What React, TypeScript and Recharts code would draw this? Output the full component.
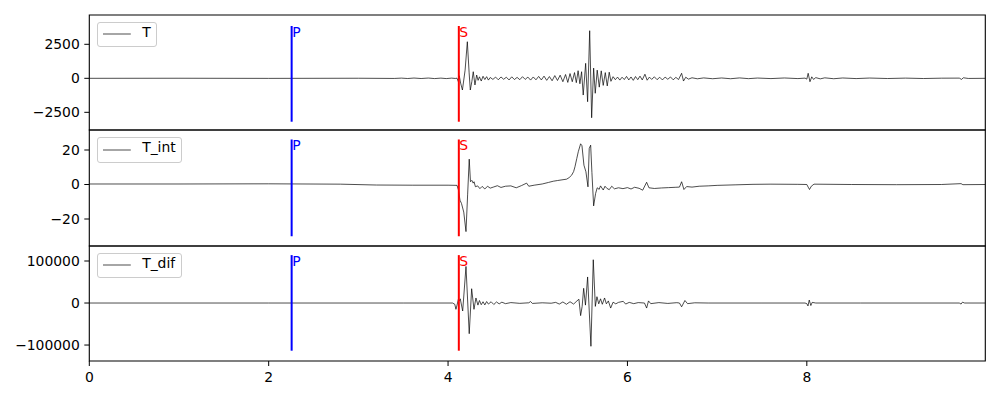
import { LineChart, Line, XAxis, YAxis, ReferenceLine, ReferenceArea, Legend } from 'recharts';

const FONT = '"DejaVu Sans", sans-serif';
const X_MAX = 9.99;
const xTicks = [0, 2, 4, 6, 8];
const pTime = 2.256;
const sTime = 4.12;

// trace T
const tT = [
  0, 1.0, 2.0, 3.0, 3.40, 3.48, 3.55, 3.62, 3.70, 3.78, 3.85, 3.92, 3.98, 4.04, 4.08, 4.10,
  4.115, 4.125, 4.14, 4.16, 4.19, 4.215, 4.235, 4.248, 4.265, 4.281, 4.30, 4.319, 4.335, 4.35,
  4.37, 4.39, 4.41, 4.43, 4.45, 4.47, 4.50, 4.53, 4.56, 4.59, 4.62, 4.65, 4.68, 4.71, 4.74,
  4.77, 4.80, 4.83, 4.86, 4.89, 4.92, 4.95, 4.98, 5.01, 5.04, 5.07, 5.10, 5.13, 5.16, 5.19,
  5.22, 5.25, 5.28, 5.31, 5.335, 5.36, 5.385, 5.41, 5.43, 5.45, 5.47, 5.489, 5.507, 5.534,
  5.556, 5.579, 5.601, 5.623, 5.641, 5.663, 5.686, 5.708, 5.730, 5.753, 5.775, 5.797, 5.816,
  5.84, 5.865, 5.89, 5.915, 5.94, 5.965, 5.99, 6.015, 6.04, 6.065, 6.09, 6.115, 6.14, 6.165,
  6.195, 6.22, 6.245, 6.27, 6.30, 6.33, 6.36, 6.39, 6.42, 6.45, 6.48, 6.51, 6.54, 6.57, 6.604,
  6.625, 6.65, 6.68, 6.72, 6.78, 6.85, 6.95, 7.05, 7.15, 7.25, 7.35, 7.45, 7.60, 7.75, 7.90,
  7.98, 8.00, 8.015, 8.035, 8.055, 8.075, 8.10, 8.15, 8.20, 8.30, 8.40, 8.55, 8.70, 8.90, 9.10,
  9.30, 9.50, 9.70, 9.725, 9.745, 9.80, 9.99,
];
const valT = [
  0, 5, -5, 5, -10, 15, -15, 20, -15, 20, -20, 15, -20, 15, -10, 10,
  -250, 190, -350, -860, 600, 2690, 400, -860, -250, 485, -490, 240, -150, 110,
  -200, 150, -90, 120, -130, 60, -80, 90, -110, 100, -70, 80, -120, 110, -90,
  70, -100, 120, -80, 90, -130, 100, -110, 140, -120, 160, -150, 130, -180, 200,
  -160, 230, -250, 280, -300, 350, -250, 420, -320, 560, -400, 485, -1230, 1100,
  -1720, 3500, -2900, 750, -1100, 600, -650, 550, -520, 420, -560, 450, -220,
  120, -100, 90, -130, 80, -90, 140, -120, 100, -150, 130, -100, 160, -120,
  300, -140, 90, -80, 110, -100, 80, -120, 90, -70, 100, -110, 70, -90, 370,
  -200, 80, -60, 40, -35, 30, -30, 25, -30, 30, -25, 20, -20, 25, -20,
  15, -60, 370, -250, 110, -80, 50, -40, 35, -30, 25, -20, 20, -15, 15,
  -15, 10, 15, -80, 40, -10, 0,
];

// trace T_int
const tInt = [
  0, 1.0, 2.0, 2.8, 3.2, 3.6, 4.0, 4.10, 4.115, 4.133, 4.15, 4.175, 4.20, 4.218, 4.236, 4.25,
  4.265, 4.28, 4.29, 4.305, 4.33, 4.355, 4.38, 4.41, 4.44, 4.47, 4.51, 4.55, 4.59, 4.64, 4.70,
  4.76, 4.82, 4.876, 4.90, 4.96, 5.05, 5.12, 5.173, 5.22, 5.27, 5.322, 5.35, 5.378, 5.40, 5.415,
  5.435, 5.452, 5.478, 5.493, 5.515, 5.537, 5.560, 5.574, 5.590, 5.604, 5.623, 5.645, 5.663,
  5.685, 5.70, 5.73, 5.75, 5.77, 5.797, 5.825, 5.855, 5.90, 5.95, 6.00, 6.04, 6.08, 6.13, 6.17,
  6.214, 6.24, 6.30, 6.38, 6.46, 6.54, 6.58, 6.604, 6.63, 6.66, 6.72, 6.80, 6.90, 7.00, 7.20,
  7.40, 7.60, 7.90, 8.00, 8.015, 8.03, 8.05, 8.08, 8.50, 9.00, 9.50, 9.72, 9.74, 9.99,
];
const valInt = [
  0.3, 0.3, 0.4, 0.2, -0.3, -0.4, -0.4, -0.5, -3, -9.1, -11, -16, -27.3, -6, 14.7, 1.6,
  2.4, 0.8, 1.6, -1.3, -0.8, -2.4, -1.1, -2.6, -1.0, -2.1, -1.4, -0.7, -1.7, -1.0, -0.8,
  -1.9, -0.6, 0.8, -1.0, -0.4, 0.3, 1.2, 1.9, 2.3, 2.7, 3.1, 4.0, 5.4, 7.5, 10.3,
  15, 19, 23.6, 22.5, 11.2, 7.4, -1.35, 20.9, 22.8, 7.0, -12.4, -5.2, -1.9,
  -2.8, -0.8, -3.2, -1.0, -2.2, -3.0, -1.0, -2.5, -1.9, -2.4, -1.8, -2.6, -1.6, -2.2, -3.3,
  1.3, -1.9, -2.3, -2.0, -1.8, -1.6, -1.5, 1.6, -2.9, -1.2, -1.5, -1.0, -0.8, -0.5, -0.2,
  0.1, 0.2, 0.1, 0.0, -1.5, -2.9, -1.0, 0.2, 0.0, -0.1, 0.0, 0.5, -0.1, 0.0,
];

// trace T_dif
const tDif = [
  0, 2.0, 3.5, 4.05, 4.075, 4.088, 4.10, 4.114, 4.125, 4.136, 4.163, 4.2, 4.236, 4.263, 4.289,
  4.311, 4.333, 4.35, 4.37, 4.39, 4.41, 4.43, 4.45, 4.48, 4.51, 4.54, 4.57, 4.60, 4.64, 4.70,
  4.80, 4.90, 4.92, 4.94, 5.05, 5.15, 5.20, 5.24, 5.28, 5.32, 5.36, 5.40, 5.437, 5.459, 5.478,
  5.495, 5.512, 5.532, 5.556, 5.593, 5.619, 5.642, 5.66, 5.68, 5.70, 5.72, 5.745, 5.765, 5.787,
  5.813, 5.84, 5.87, 5.90, 5.953, 5.98, 6.02, 6.07, 6.12, 6.19, 6.214, 6.235, 6.26, 6.35, 6.45,
  6.55, 6.58, 6.604, 6.641, 6.67, 6.75, 6.9, 7.5, 7.98, 8.0, 8.013, 8.027, 8.045, 8.06, 8.10,
  8.6, 9.70, 9.72, 9.735, 9.76, 9.99,
];
const valDif = [
  0, 0, 0, 0, -3000, -15000, -5000, 8000, 5000, 10000, -19000, 87000, -73000, 34000, -15000,
  12000, -5000, 6000, -4000, 3000, -4500, 3500, -2500, 3000, -3500, 2500, -2000, 2000, -1500, 1000,
  -800, 500, 3500, -1000, 500, -500, 1500, -2500, 2500, -3000, 3000, -2500, 5000, 9000, -30000,
  -8000, 35000, -5000, 62000, -103000, 103000, -8000, 15000, -2000, 10000, -3000, 12000, -2000, 5000,
  -12000, 2000, -2000, 1500, 4000, -2500, 1500, -1500, 1000, 0, -12000, 5000, -1500, 1000, -1000,
  800, 0, -9000, 6000, -1500, 500, 0, 0, 0, -1500, -7000, 7000, -6000, 1500, 0,
  0, 0, -2500, 2000, 0, 0,
];

const fmt = (v: number) => (v < 0 ? '\u2212' + Math.abs(v) : String(v));

function PickLabel(props: any) {
  const { viewBox, text, color } = props;
  const x = viewBox?.x ?? 0;
  const y = viewBox?.y ?? 0;
  return (
    <text x={x + 0.5} y={y + 11} fill={color} fontSize={13.9} fontFamily={FONT}>
      {text}
    </text>
  );
}

function LegendBox({ name }: { name: string }) {
  return (
    <div
      style={{
        display: 'inline-flex',
        alignItems: 'center',
        boxSizing: 'border-box',
        height: 25.6,
        padding: '0 5.6px',
        border: '1px solid #cccccc',
        borderRadius: 3,
        background: 'rgba(255,255,255,0.8)',
        fontFamily: FONT,
        fontSize: 13.9,
        color: '#000',
      }}
    >
      <svg width={27.8} height={4} style={{ display: 'block' }}>
        <line x1={0} y1={2} x2={27.8} y2={2} stroke="#000" strokeWidth={0.7} />
      </svg>
      <span style={{ marginLeft: 11.1, lineHeight: 1, position: 'relative', top: -2 }}>{name}</span>
    </div>
  );
}

interface PanelProps {
  name: string;
  times: number[];
  values: number[];
  yTicks: number[];
  yDomain: [number, number];
  pickRange: [number, number];
  top: number;
  height: number;
  marginTop: number;
  marginBottom: number;
  legendTop: number;
  showX: boolean;
}

function Panel({ name, times, values, yTicks, yDomain, pickRange, top, height, marginTop, marginBottom, legendTop, showX }: PanelProps) {
  const data = times.map((t, i) => ({ t, v: values[i] }));
  const [lo, hi] = pickRange;
  return (
    <div style={{ position: 'absolute', left: 0, top }}>
      <LineChart width={1000} height={height} data={data} margin={{ top: marginTop, right: 14.7, bottom: marginBottom, left: 0 }}>
        <XAxis
          type="number"
          dataKey="t"
          domain={[0, X_MAX]}
          ticks={xTicks}
          allowDataOverflow
          hide={!showX}
          height={39}
          axisLine={false}
          tickSize={5}
          tickMargin={5.8}
          tickLine={{ stroke: '#000', strokeWidth: 1 }}
          tick={{ fontSize: 13.9, fontFamily: FONT, fill: '#000' }}
        />
        <YAxis
          type="number"
          domain={yDomain}
          ticks={yTicks}
          allowDataOverflow
          width={89.3}
          axisLine={false}
          tickSize={5}
          tickMargin={4.5}
          tickFormatter={fmt}
          tickLine={{ stroke: '#000', strokeWidth: 1 }}
          tick={{ fontSize: 13.9, fontFamily: FONT, fill: '#000' }}
        />
        <Line type="linear" dataKey="v" stroke="#000" strokeWidth={0.7} dot={false} isAnimationActive={false} />
        <ReferenceLine
          segment={[{ x: pTime, y: hi }, { x: pTime, y: lo }]}
          stroke="#0000ff"
          strokeWidth={2}
          label={<PickLabel text="P" color="#0000ff" />}
        />
        <ReferenceLine
          segment={[{ x: sTime, y: hi }, { x: sTime, y: lo }]}
          stroke="#ff0000"
          strokeWidth={2}
          label={<PickLabel text="S" color="#ff0000" />}
        />
        <ReferenceArea x1={0} x2={X_MAX} y1={yDomain[0]} y2={yDomain[1]} fill="none" stroke="#000" strokeWidth={1.1} />
        <Legend
          layout="horizontal"
          verticalAlign="middle"
          align="center"
          wrapperStyle={{ left: 96.7, top: legendTop, width: 'auto', height: 'auto' }}
          content={() => <LegendBox name={name} />}
        />
      </LineChart>
    </div>
  );
}

export default function App() {
  return (
    <div style={{ position: 'absolute', left: 0, top: 0, width: 1000, height: 400, background: '#fff' }}>
      <Panel
        name="T"
        times={tT}
        values={valT}
        yTicks={[-2500, 0, 2500]}
        yDomain={[-3800, 4655]}
        pickRange={[-3191, 3846]}
        top={0}
        height={140}
        marginTop={15}
        marginBottom={10}
        legendTop={21.7}
        showX={false}
      />
      <Panel
        name="T_int"
        times={tInt}
        values={valInt}
        yTicks={[-20, 0, 20]}
        yDomain={[-35.65, 31.6]}
        pickRange={[-30.0, 26.1]}
        top={120}
        height={136}
        marginTop={10}
        marginBottom={10}
        legendTop={17.3}
        showX={false}
      />
      <Panel
        name="T_dif"
        times={tDif}
        values={valDif}
        yTicks={[-100000, 0, 100000]}
        yDomain={[-138000, 135700]}
        pickRange={[-113500, 114000]}
        top={236}
        height={164}
        marginTop={10}
        marginBottom={0}
        legendTop={16.7}
        showX={true}
      />
    </div>
  );
}
